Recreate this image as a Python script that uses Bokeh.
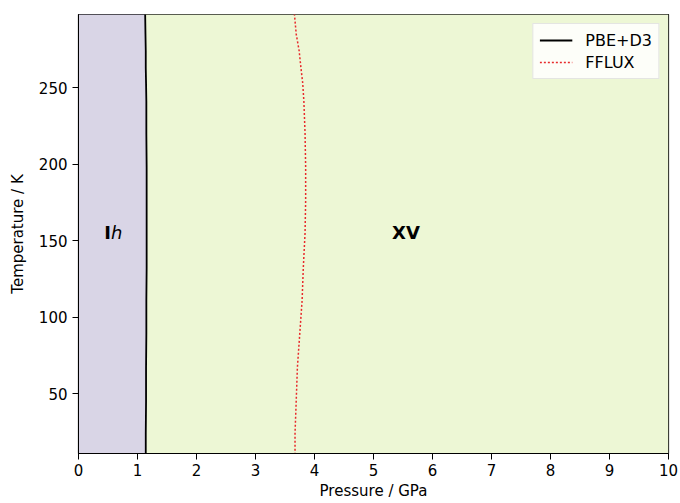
from bokeh.plotting import figure
from bokeh.models import Range1d, Legend, LegendItem, FixedTicker
from bokeh.core.properties import value
from bokeh.embed import file_html
from bokeh.resources import INLINE

# Phase boundary data (temperature in K, pressure in GPa)
temps = [10, 24, 45, 67, 89, 111, 132, 155, 176, 198, 220, 241, 253, 263, 274, 285, 298]
pbe_p = [1.14, 1.14, 1.145, 1.145, 1.15, 1.15, 1.155, 1.155, 1.155, 1.155, 1.15, 1.15, 1.145, 1.14, 1.14, 1.135, 1.13]
fflux_p = [3.67, 3.67, 3.69, 3.71, 3.75, 3.79, 3.81, 3.84, 3.85, 3.85, 3.84, 3.82, 3.80, 3.77, 3.74, 3.69, 3.66]
p_min = [0.0] * len(temps)
p_max = [10.0] * len(temps)

x_ticks = [0, 1, 2, 3, 4, 5, 6, 7, 8, 9, 10]
y_ticks = [50, 100, 150, 200, 250]

FONT = "DejaVu Sans"

p = figure(width=680, height=503, output_backend="svg", toolbar_location=None,
           x_range=Range1d(0, 10), y_range=Range1d(10.8, 297.8),
           min_border_left=78, min_border_right=12, min_border_top=14, min_border_bottom=50)
p.background_fill_color = "white"
p.border_fill_color = "white"
p.outline_line_color = "black"
p.outline_line_width = 1.2
p.grid.visible = False

# Phase regions
p.harea(y=temps, x1=p_min, x2=pbe_p, fill_color="#d9d5e6")
p.harea(y=temps, x1=pbe_p, x2=p_max, fill_color="#edf7d5")

r1 = p.line(pbe_p, temps, line_color="black", line_width=1.8)
r2 = p.line(fflux_p, temps, line_color="#e8292b", line_width=1.5, line_dash="2 2")

# Labels
p.text(x=[0.55], y=[155], text=["I"], text_font=value(FONT), text_font_style="bold",
       text_font_size="18px", text_align="right", text_baseline="middle", text_color="black")
p.text(x=[0.55], y=[155], text=["h"], text_font=value(FONT), text_font_style="italic",
       text_font_size="18px", text_align="left", text_baseline="middle", text_color="black")
p.text(x=[5.55], y=[155], text=["XV"], text_font=value(FONT), text_font_style="bold",
       text_font_size="18px", text_align="center", text_baseline="middle", text_color="black")

legend = Legend(items=[LegendItem(label="PBE+D3", renderers=[r1]),
                       LegendItem(label="FFLUX", renderers=[r2])],
                location="top_right")
legend.label_text_font = FONT
legend.label_text_font_size = "16px"
legend.label_text_color = "black"
legend.border_line_color = "#cccccc"
legend.background_fill_color = "white"
legend.background_fill_alpha = 0.85
legend.glyph_width = 33
legend.glyph_height = 20
legend.label_height = 20
legend.label_standoff = 13
legend.spacing = 2
legend.padding = 6
legend.margin = 9
p.add_layout(legend)

for ax in (p.xaxis[0], p.yaxis[0]):
    ax.major_label_text_font = FONT
    ax.major_label_text_font_size = "15px"
    ax.major_label_text_color = "black"
    ax.axis_label_text_font = FONT
    ax.axis_label_text_font_size = "15px"
    ax.axis_label_text_font_style = "normal"
    ax.axis_label_text_color = "black"
    ax.minor_tick_line_color = None
    ax.major_tick_out = 6
    ax.major_tick_in = 0
    ax.axis_line_color = "black"

p.xaxis.ticker = FixedTicker(ticks=x_ticks)
p.yaxis.ticker = FixedTicker(ticks=y_ticks)
p.xaxis.axis_label = "Pressure / GPa"
p.yaxis.axis_label = "Temperature / K"
p.xaxis.major_label_standoff = 4
p.yaxis.major_label_standoff = 5
p.xaxis.axis_label_standoff = 3
p.yaxis.axis_label_standoff = 9

open("out.html", "w").write(file_html(p, INLINE))
